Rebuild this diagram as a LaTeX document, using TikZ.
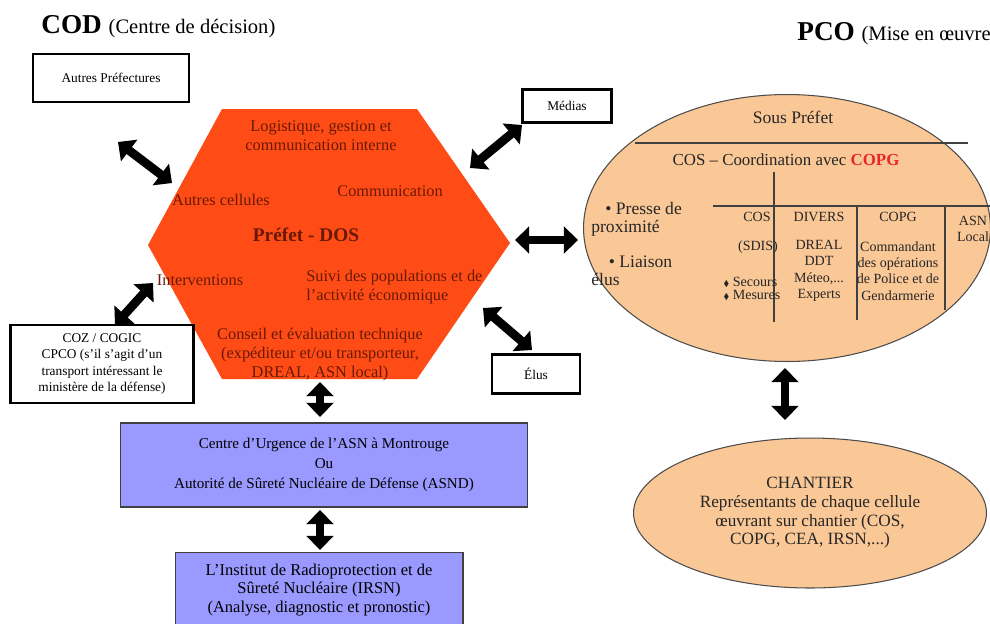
\documentclass[tikz,border=0pt]{standalone}
\usepackage{amsmath,amssymb}
\usepackage{fontspec}
\setmainfont{Liberation Serif}
\usepackage{tikz}
\usetikzlibrary{arrows.meta,positioning,shapes.geometric}
\usepackage{xcolor}

\definecolor{hexred}{RGB}{255,76,22}
\definecolor{hextxt}{RGB}{105,25,5}
\definecolor{lavbox}{RGB}{153,153,255}
\definecolor{peach}{RGB}{250,200,150}
\definecolor{copgred}{RGB}{232,40,40}
\newcommand{\fsz}[2]{\fontsize{#1}{#2}\selectfont}
\newcommand{\losange}{\scalebox{0.6}{$\blacklozenge$}}

\begin{document}
\begin{tikzpicture}[x=0.02cm,y=-0.02cm,
	wbox/.style={draw,line width=1.6pt,fill=white,inner sep=0pt,align=center,font=\fsz{7.6}{9.4}},
	bluebox/.style={draw=black!75,line width=0.6pt,fill=lavbox,inner sep=0pt,align=center},
	dblarrow/.style={line width=5pt,{Triangle[length=8pt,width=15pt]}-{Triangle[length=8pt,width=15pt]}}]
	\useasboundingbox (0,0) rectangle (990,623);

	% titres
	\node[anchor=base west,inner sep=0pt] (cod) at (41,33) {\fsz{15.5}{18}\bfseries COD \fsz{11.7}{14}\mdseries(Centre de décision)};
	\node[anchor=base west,inner sep=0pt] (pco) at (797,40) {\fsz{15.5}{18}\bfseries PCO \fsz{11.7}{14}\mdseries(Mise en œuvre};

	% hexagone du COD
	\fill[hexred] (222,109) -- (417,109) -- (510,243) -- (417,379) -- (222,379) -- (148,245) -- cycle;
	\begin{scope}[every node/.style={text=hextxt,align=center,inner sep=0pt,font=\fsz{9.3}{10.8}}]
		\node (logi) at (321,136) {Logistique, gestion et\\communication interne};
		\node (cell) at (221,200) {Autres cellules};
		\node (comm) at (390,191) {Communication};
		\node[font=\fsz{11}{13}\bfseries] (dos) at (306,235) {Préfet - DOS};
		\node (interv) at (200,280) {Interventions};
		\node[anchor=west,align=left] (suivi) at (306,287) {Suivi des populations et de\\l'activité économique};
		\node (conseil) at (320,355) {Conseil et évaluation technique\\(expéditeur et/ou transporteur,\\DREAL, ASN local)};
	\end{scope}

	% cadres blancs
	\node[wbox,minimum width=3.12cm,minimum height=0.96cm] (autres) at (111,78) {Autres Préfectures};
	\node[wbox,minimum width=1.78cm,minimum height=0.66cm] (medias) at (567,106) {Médias};
	\node[wbox,minimum width=1.76cm,minimum height=0.78cm] (elus) at (536,374) {Élus};
	\node[wbox,minimum width=3.66cm,minimum height=1.56cm] (coz) at (102,364) {COZ / COGIC\\CPCO (s'il s'agit d'un\\transport intéressant le\\ministère de la défense)};

	% cadres bleus
	\node[bluebox,font=\fsz{8.6}{11.3},minimum width=8.16cm,minimum height=1.68cm] (urgence) at (324,465) {Centre d'Urgence de l'ASN à Montrouge\\Ou\\Autorité de Sûreté Nucléaire de Défense (ASND)};
	\node[bluebox,font=\fsz{9.4}{10.4},minimum width=5.76cm,minimum height=1.5cm] (irsn) at (319,590) {L'Institut de Radioprotection et de\\Sûreté Nucléaire (IRSN)\\(Analyse, diagnostic et pronostic)};

	% PCO
	\node[ellipse,draw=black!70,line width=0.6pt,fill=peach,minimum width=8.14cm,minimum height=5.34cm,inner sep=0pt] (sousp) at (787,228) {};
	\node[ellipse,draw=black!70,line width=0.6pt,fill=peach,minimum width=7.06cm,minimum height=3cm,inner sep=0pt,align=center,text=black!85,font=\fsz{9.8}{10.6}] (chantier) at (810,513) {CHANTIER\\Représentants de chaque cellule\\œuvrant sur chantier (COS,\\COPG, CEA, IRSN,...)};

	\begin{scope}[black!75,line width=0.6pt]
		\draw (635,143) -- (968,143);
		\draw (774,172) -- (774,322);
		\draw (713,206) -- (990,206);
		\draw (857,206) -- (857,320);
		\draw (945,206) -- (945,310);
	\end{scope}

	\begin{scope}[every node/.style={text=black!85,align=center,inner sep=0pt,font=\fsz{8}{9.3}}]
		\node[font=\fsz{10}{12}] (sp) at (793,117) {Sous Préfet};
		\node[font=\fsz{9.6}{11}] (cosl) at (786,160) {COS -- Coordination avec \textcolor{copgred}{\textbf{COPG}}};
		\node[anchor=west,align=left,font=\fsz{10}{10.2}] (presse) at (591,219) {\hspace*{8pt}\textbullet{} Presse de\\proximité};
		\node[anchor=west,align=left,font=\fsz{10}{10.2}] (liaison) at (591,271) {\hspace*{10pt}\textbullet{} Liaison\\élus};
		\node (cos) at (757,217) {COS};
		\node (sdis) at (758,247) {(SDIS)};
		\node[align=left,font=\fsz{8}{7.6}] (secours) at (752,289) {\losange{} Secours\\\losange{} Mesures};
		\node (divers) at (819,217) {DIVERS};
		\node (dreal) at (819,271) {DREAL\\DDT\\Méteo,...\\Experts};
		\node (copg) at (898,217) {COPG};
		\node (cmd) at (898,271) {Commandant\\des opérations\\de Police et de\\Gendarmerie};
		\node (asn) at (973,229) {ASN\\Local};
	\end{scope}

	% fleches doubles
	\coordinate (autA) at (118,142);  \coordinate (autB) at (172,183);
	\coordinate (cozA) at (153,283);  \coordinate (cozB) at (115,325);
	\coordinate (medA) at (522,125);  \coordinate (medB) at (470,168);
	\coordinate (pcoA) at (515,240);  \coordinate (pcoB) at (578,240);
	\coordinate (eluA) at (483,308);  \coordinate (eluB) at (532,350);
	\coordinate (urgA) at (320,382);  \coordinate (urgB) at (320,417);
	\coordinate (irsA) at (320,510);  \coordinate (irsB) at (320,550);
	\coordinate (chaA) at (785,368);  \coordinate (chaB) at (785,420);

	\draw[dblarrow] (autA) -- (autB);
	\draw[dblarrow] (cozA) -- (cozB);
	\draw[dblarrow] (medA) -- (medB);
	\draw[dblarrow] (pcoA) -- (pcoB);
	\draw[dblarrow] (eluA) -- (eluB);
	\draw[dblarrow] (urgA) -- (urgB);
	\draw[dblarrow] (irsA) -- (irsB);
	\draw[dblarrow] (chaA) -- (chaB);
\end{tikzpicture}
\end{document}
